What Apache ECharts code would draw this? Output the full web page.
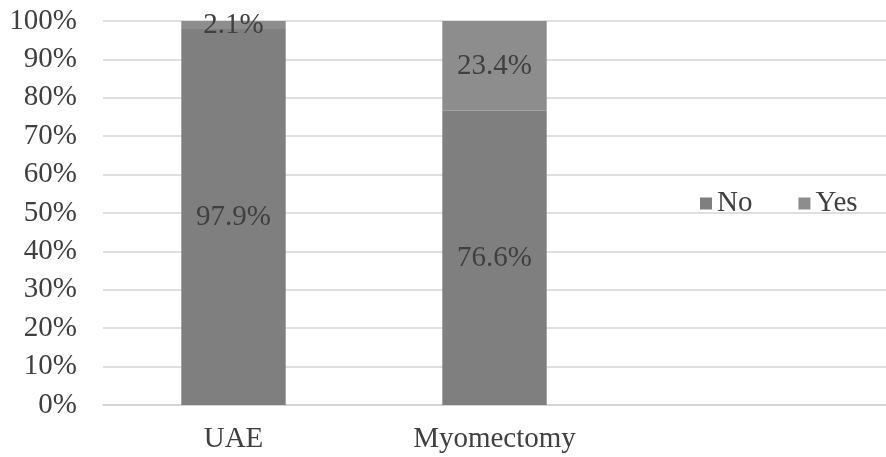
<!DOCTYPE html>
<html>
<head>
<meta charset="utf-8">
<script src="https://cdn.jsdelivr.net/npm/echarts@6/dist/echarts.min.js"></script>
<style>
  html, body { margin: 0; padding: 0; background: #fff; }
  #chart { width: 886px; height: 457px; }
</style>
</head>
<body>
<div id="chart"></div>
<script>
// Procedure groups (the third slot is left empty to leave room on the right)
const categories = ['UAE', 'Myomectomy', ''];
const noValues = [97.9, 76.6, null];
const yesValues = [2.1, 23.4, null];
const yTicks = [0, 10, 20, 30, 40, 50, 60, 70, 80, 90, 100];

const serif = 'Liberation Serif, Times New Roman, serif';
const textColor = '#404040';
const fontSize = 29;
const chart = echarts.init(document.getElementById('chart'));

const labelStyle = {
  show: true,
  position: 'inside',
  fontFamily: serif,
  fontSize: fontSize,
  color: textColor,
  formatter: p => p.value.toFixed(1) + '%'
};

chart.setOption({
  animation: false,
  backgroundColor: '#ffffff',
  grid: { left: 103, width: 792, top: 21, bottom: 52 },
  legend: {
    data: ['No', 'Yes'],
    left: 695,
    top: 184,
    itemWidth: 12,
    itemHeight: 12,
    itemGap: 46,
    icon: 'rect',
    textStyle: { fontFamily: serif, fontSize: fontSize, color: textColor }
  },
  xAxis: {
    type: 'category',
    data: categories,
    axisLine: { show: true, lineStyle: { color: '#d0d0d0', width: 1.5 } },
    axisTick: { show: false },
    axisLabel: { fontFamily: serif, fontSize: fontSize, color: textColor, margin: 20 }
  },
  yAxis: {
    type: 'value',
    min: yTicks[0],
    max: yTicks[yTicks.length - 1],
    interval: 10,
    axisLine: { show: false },
    axisTick: { show: false },
    splitLine: { lineStyle: { color: '#d6d6d6', width: 1.5 } },
    axisLabel: {
      fontFamily: serif,
      fontSize: fontSize,
      color: textColor,
      margin: 26,
      formatter: v => v + '%'
    }
  },
  series: [
    {
      name: 'No',
      type: 'bar',
      stack: 'total',
      barWidth: '40%',
      data: noValues,
      itemStyle: { color: '#7f7f7f' },
      label: labelStyle
    },
    {
      name: 'Yes',
      type: 'bar',
      stack: 'total',
      barWidth: '40%',
      data: yesValues,
      itemStyle: { color: '#8d8d8d' },
      label: labelStyle
    }
  ]
});
</script>
</body>
</html>
